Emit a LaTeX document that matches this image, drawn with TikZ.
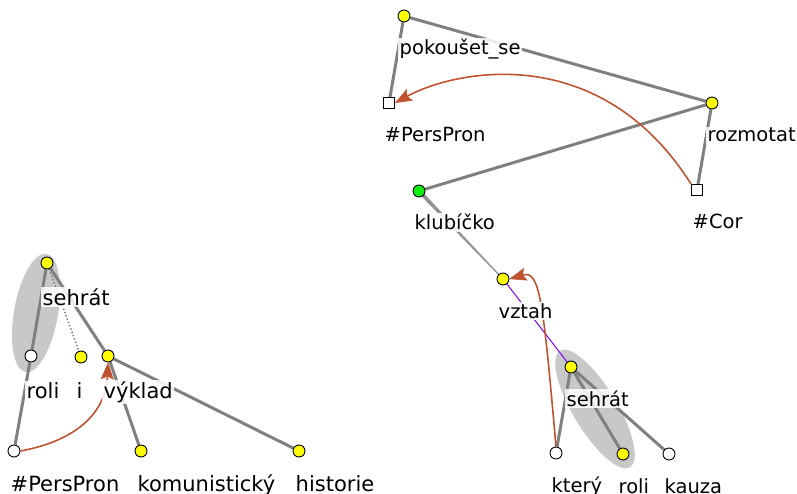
\documentclass[tikz,border=0pt]{standalone}
\usepackage{fontspec}
\setmainfont{DejaVu Sans}
\usetikzlibrary{arrows.meta,calc,shapes.geometric}
\pgfdeclarelayer{ell}
\pgfdeclarelayer{edge}
\pgfdeclarelayer{lab}
\pgfsetlayers{ell,edge,lab,main}
\definecolor{edgegray}{HTML}{808080}
\definecolor{corefc}{HTML}{C0532F}
\definecolor{purp}{HTML}{7A00FF}
\definecolor{nyellow}{HTML}{FFFF00}
\definecolor{ngreen}{HTML}{11EE11}
\definecolor{ellfill}{HTML}{C8C8C8}
\tikzset{
  tnode/.style={circle,draw=black,line width=0.9pt,minimum size=12pt,inner sep=0pt},
  ynode/.style={tnode,fill=nyellow},
  wnode/.style={tnode,fill=white},
  gnode/.style={tnode,fill=ngreen},
  snode/.style={rectangle,draw=black,line width=0.9pt,fill=white,minimum size=11pt,inner sep=0pt},
  lbl/.style={anchor=base west,inner sep=1.5pt,fill=white,fill opacity=0.85,text opacity=1},
  lblA/.style={lbl,font=\fontsize{21}{24}\selectfont},
  lblB/.style={lbl,font=\fontsize{19.5}{22}\selectfont},
  thick edge/.style={draw=edgegray,line width=3pt},
  dot edge/.style={draw=edgegray,line width=1.5pt,dotted},
  coref/.style={draw=corefc,line width=1.6pt,
    -{Stealth[length=17pt,width=13pt,inset=3pt,line width=0.5pt]}},
  hilite/.style={ellipse,fill=ellfill,inner sep=0pt}
}
\begin{document}
\begin{tikzpicture}[x=1pt,y=-1pt]
\useasboundingbox (0,0) rectangle (797,494);

% first tree
\node[ynode] (seh1) at (47,263) {};
\node[wnode] (roli1) at (31,356) {};
\node[ynode] (i) at (81,357) {};
\node[ynode] (vyk) at (108,356) {};
\node[wnode] (pp1) at (14,451) {};
\node[ynode] (kom) at (141,451) {};
\node[ynode] (his) at (299,451) {};

% second tree
\node[ynode] (pok) at (404,16) {};
\node[snode] (pp2) at (389,103) {};
\node[ynode] (roz) at (712,103) {};
\node[snode] (cor) at (697,190) {};
\node[gnode] (klub) at (419,191) {};
\node[ynode] (vztah) at (503,279) {};
\node[ynode] (seh2) at (571,367) {};
\node[wnode] (kter) at (556,453) {};
\node[ynode] (roli2) at (623,454) {};
\node[wnode] (kau) at (669,454) {};

% highlighted groups
\begin{pgfonlayer}{ell}
\node[hilite,minimum width=120pt,minimum height=44pt,rotate=80] (grp1) at (36,313) {};
\node[hilite,minimum width=136pt,minimum height=44pt,rotate=-59] (grp2) at (595,409) {};
\end{pgfonlayer}

% tree edges
\begin{pgfonlayer}{edge}
\draw[thick edge] (seh1) -- (roli1);
\draw[thick edge] (roli1) -- (pp1);
\draw[dot edge] (seh1) -- (i);
\draw[thick edge] (seh1) -- (vyk);
\draw[thick edge] (vyk) -- (kom);
\draw[thick edge] (vyk) -- (his);

\draw[thick edge] (pok) -- (pp2);
\draw[thick edge] (pok) -- (roz);
\draw[thick edge] (roz) -- (cor);
\draw[thick edge] (roz) -- (klub);
\fill[edgegray!85] ($(klub)!2pt!90:(vztah)$) -- ($(vztah)!0.5pt!-90:(klub)$)
  -- ($(vztah)!0.5pt!90:(klub)$) -- ($(klub)!2pt!-90:(vztah)$) -- cycle;
\draw[purp,line width=1pt] (vztah) -- (seh2);
\draw[thick edge] (seh2) -- (kter);
\draw[thick edge] (seh2) -- (roli2);
\draw[thick edge] (seh2) -- (kau);

% coreference arrows
\draw[coref] (pp1.east) .. controls (80,440) and (106,410) .. (vyk.south);
\draw[coref] (cor.north west) .. controls (600,40) and (455,70) .. (pp2.east);
\draw[coref] (kter.north) .. controls (543,300) and (540,270) .. (vztah.east);
\end{pgfonlayer}

% labels
\begin{pgfonlayer}{lab}
\node[lblA] (l-seh1) at ($(seh1)+(-6,42)$) {sehrát};
\node[lblA] (l-roli1) at ($(roli1)+(-6,42)$) {roli};
\node[lblA] (l-i) at ($(i)+(-6,41)$) {i};
\node[lblA] (l-vyk) at ($(vyk)+(-6,42)$) {výklad};
\node[lblA] (l-pp1) at ($(pp1)+(-5,40)$) {\#PersPron};
\node[lblA] (l-kom) at ($(kom)+(-5,40)$) {komunistický};
\node[lblA] (l-his) at ($(his)+(-5,40)$) {historie};

\node[lblB] (l-pok) at ($(pok)+(-6,39)$) {pokoušet\_se};
\node[lblB] (l-pp2) at ($(pp2)+(-6,39)$) {\#PersPron};
\node[lblB] (l-roz) at ($(roz)+(-6,39)$) {rozmotat};
\node[lblB] (l-cor) at ($(cor)+(-6,39)$) {\#Cor};
\node[lblB] (l-klub) at ($(klub)+(-6,39)$) {klubíčko};
\node[lblB] (l-vztah) at ($(vztah)+(-6,39)$) {vztah};
\node[lblB] (l-seh2) at ($(seh2)+(-6,39)$) {sehrát};
\node[lblB] (l-kter) at ($(kter)+(-6,39)$) {který};
\node[lblB] (l-roli2) at ($(roli2)+(-6,39)$) {roli};
\node[lblB] (l-kau) at ($(kau)+(-6,39)$) {kauza};
\end{pgfonlayer}
\end{tikzpicture}
\end{document}
